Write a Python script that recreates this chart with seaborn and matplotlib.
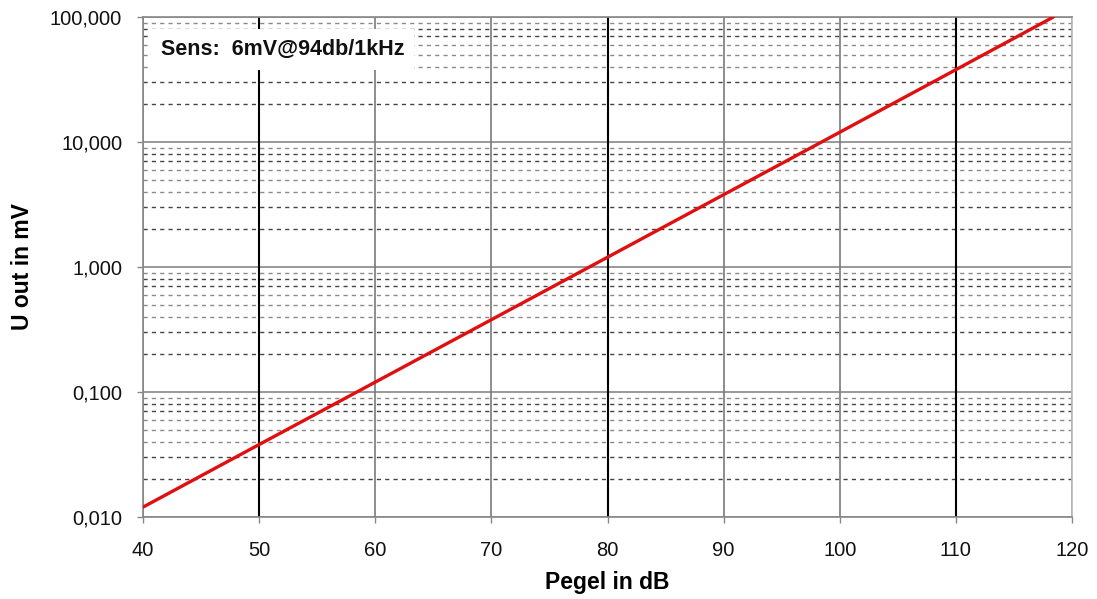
import matplotlib
matplotlib.use("Agg")
import matplotlib.pyplot as plt
import matplotlib.ticker as mticker
import seaborn as sns
import pandas as pd

# Data (straight line on log scale)
pegel_db = [40, 50, 60, 70, 80, 90, 100, 110, 118.4]
u_out_mv = [0.012, 0.038, 0.120, 0.379, 1.197, 3.79, 11.97, 37.9, 100.0]
x_ticks = [40, 50, 60, 70, 80, 90, 100, 110, 120]
y_ticks = [0.01, 0.1, 1, 10, 100]
y_tick_labels = ["0,010", "0,100", "1,000", "10,000", "100,000"]
dark_x = [50, 80, 110]

sns.set_theme(style="white")
plt.rcParams['font.family'] = ['Liberation Sans', 'DejaVu Sans']

df = pd.DataFrame({"Pegel": pegel_db, "U": u_out_mv})

fig = plt.figure(figsize=(10.97, 5.99), dpi=100)
ax = fig.add_axes([0.1304, 0.1369, 0.9772 - 0.1304, 0.9716 - 0.1369])
ax.set_yscale("log")
ax.set_xlim(40, 120)
ax.set_ylim(0.01, 100)

# grid: minor horizontal dashed lines
for dec in [0.01, 0.1, 1, 10]:
    for m in range(2, 10):
        v = dec * m
        ax.axhline(v, color="#444444" if m in (2, 3, 7, 8) else "#8a8a8a",
                   lw=1.0, ls=(0, (3, 3)), zorder=1)
# major horizontal lines
for v in y_ticks:
    ax.axhline(v, color="#888888", lw=1.2, zorder=1.5)
# vertical lines
for x in x_ticks:
    ax.axvline(x, color="#000000" if x in dark_x else "#7a7a7a",
               lw=1.5 if x in dark_x else 1.2, zorder=1.6)

sns.lineplot(data=df, x="Pegel", y="U", ax=ax, color="#e01010", lw=2.4, zorder=3)

ax.set_xticks(x_ticks)
ax.set_xticklabels([str(t) for t in x_ticks], fontsize=14.5, color="#111111")
ax.set_yticks(y_ticks)
ax.set_yticklabels(y_tick_labels, fontsize=14.5, color="#111111")
ax.yaxis.set_minor_locator(mticker.NullLocator())
ax.tick_params(axis="both", which="major", direction="out", length=4, width=1,
               color="#888888", left=True, bottom=True)
ax.tick_params(axis="x", pad=13)
ax.tick_params(axis="y", pad=11)

for s in ["left", "bottom", "top"]:
    ax.spines[s].set_color("#888888")
    ax.spines[s].set_linewidth(1.2)
ax.spines["right"].set_color("#bbbbbb")

ax.set_xlabel("Pegel in dB", fontsize=16.5, fontweight="bold", color="#000000",
              va="center")
ax.set_ylabel("U out in mV", fontsize=16.5, fontweight="bold", color="#000000",
              va="center")
ax.xaxis.set_label_coords(0.5, -0.132)
ax.yaxis.set_label_coords(-0.130, 0.5)

ax.text(0.019, 0.935, "Sens:  6mV@94db/1kHz", transform=ax.transAxes,
        fontsize=15.5, fontweight="bold", va="center", ha="left", zorder=4,
        color="#111111", bbox=dict(facecolor="white", edgecolor="none", pad=7))

fig.savefig("out.png", dpi=100, facecolor="white")
